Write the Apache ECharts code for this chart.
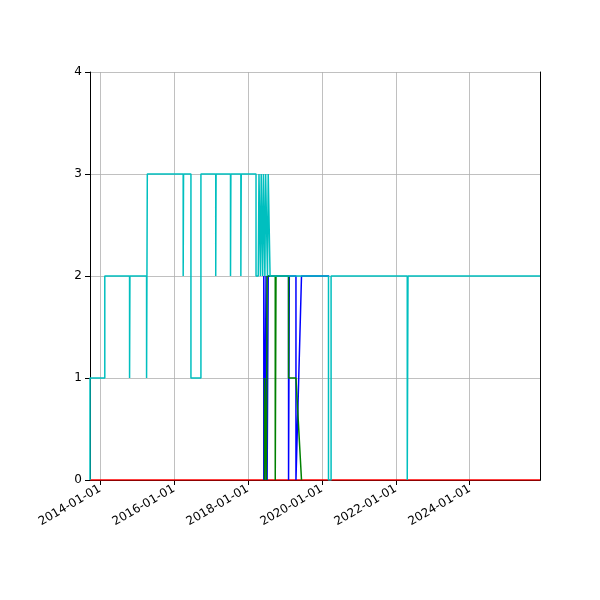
<!DOCTYPE html>
<html>
<head>
<meta charset="utf-8">
<script src="https://cdn.jsdelivr.net/npm/echarts@6/dist/echarts.min.js"></script>
<style>html,body{margin:0;background:#fff}#chart{width:600px;height:600px}</style>
</head>
<body>
<div id="chart"></div>
<script>
// dates in decimal years
var tickYears = [2014, 2016, 2018, 2020, 2022, 2024];
var redLine = [[2013.73, 0], [2025.9, 0]];
var blueLine = [[2018.43, 0], [2018.43, 2], [2018.46, 0], [2018.49, 2], [2018.52, 0], [2018.55, 2],
	[2019.1, 2], [2019.1, 0], [2019.12, 2], [2019.3, 2], [2019.3, 0], [2019.45, 2], [2020.2, 2]];
var greenLine = [[2018.45, 0], [2018.45, 1], [2018.5, 1], [2018.5, 0], [2018.52, 2], [2018.74, 2],
	[2018.74, 0], [2018.76, 2], [2019.1, 2], [2019.1, 1], [2019.3, 1], [2019.45, 0]];
var cyanLine = [[2013.73, 0], [2013.73, 1], [2014.13, 1], [2014.13, 2], [2014.8, 2], [2014.8, 1], [2014.81, 2],
	[2015.26, 2], [2015.26, 1], [2015.28, 1], [2015.28, 3], [2016.25, 3], [2016.25, 2], [2016.26, 3],
	[2016.46, 3], [2016.46, 1], [2016.73, 1], [2016.73, 3], [2017.13, 3], [2017.13, 2], [2017.14, 3],
	[2017.53, 3], [2017.53, 2], [2017.54, 3], [2017.81, 3], [2017.81, 2], [2017.82, 3], [2018.22, 3],
	[2018.22, 2], [2018.28, 2], [2018.3, 3], [2018.34, 3], [2018.34, 2], [2018.36, 3], [2018.4, 3],
	[2018.4, 2], [2018.42, 3], [2018.46, 3], [2018.46, 2], [2018.48, 3], [2018.53, 3], [2018.53, 2],
	[2018.55, 3], [2018.6, 3], [2018.6, 2], [2020.18, 2], [2020.18, 0], [2020.25, 0], [2020.25, 2],
	[2022.31, 2], [2022.31, 0], [2022.33, 0], [2022.33, 2], [2025.9, 2]];
var yTicks = [0, 1, 2, 3, 4];

var myChart = echarts.init(document.getElementById('chart'));
function line(data, color, z) {
	return {type: 'line', data: data, showSymbol: false, symbol: 'none', z: z, xAxisIndex: 0, yAxisIndex: 0,
		lineStyle: {color: color, width: 1.5}, animation: false};
}
var option = {
	animation: false,
	grid: {left: 90, right: 60, top: 72, bottom: 120},
	xAxis: [{
		type: 'value', min: 2013.73, max: 2025.9,
		axisLine: {show: true, onZero: false, lineStyle: {color: '#000'}},
		axisTick: {show: true, customValues: tickYears, lineStyle: {color: '#000'}},
		axisLabel: {customValues: tickYears, rotate: 30, color: '#000', fontSize: 12, fontFamily: 'DejaVu Sans',
			formatter: function (v) { return Math.round(v) + '-01-01'; }},
		splitLine: {show: true, lineStyle: {color: '#b0b0b0', width: 0.8}}
	}, {
		type: 'value', position: 'top', min: 2013.73, max: 2025.9,
		axisLine: {show: true, lineStyle: {color: '#000'}},
		axisTick: {show: false}, axisLabel: {show: false}, splitLine: {show: false}
	}],
	yAxis: [{
		type: 'value', min: 0, max: 4, interval: 1,
		axisLine: {show: true, lineStyle: {color: '#000'}},
		axisTick: {show: true, lineStyle: {color: '#000'}},
		axisLabel: {color: '#000', fontSize: 12, fontFamily: 'DejaVu Sans'},
		splitLine: {show: true, lineStyle: {color: '#b0b0b0', width: 0.8}}
	}, {
		type: 'value', position: 'right', min: 0, max: 4,
		axisLine: {show: true, lineStyle: {color: '#000'}},
		axisTick: {show: false}, axisLabel: {show: false}, splitLine: {show: false}
	}],
	series: [
		line(redLine, '#ff0000', 2),
		line(blueLine, '#0000ff', 3),
		line(greenLine, '#008000', 4),
		line(cyanLine, '#00bfbf', 5)
	]
};
myChart.setOption(option);
</script>
</body>
</html>
